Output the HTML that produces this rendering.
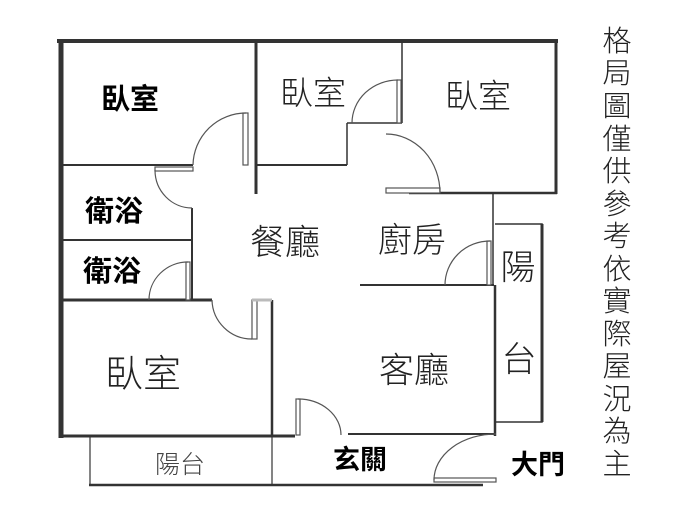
<!DOCTYPE html>
<html><head><meta charset="utf-8"><style>
html,body{margin:0;padding:0;background:#fff;width:691px;height:511px;overflow:hidden}
svg{display:block}
text{font-family:"Liberation Sans","Noto Sans CJK TC",sans-serif;fill:#222;text-anchor:middle;dominant-baseline:central;font-weight:300}
.b{font-weight:bold;fill:#000}
</style></head><body>
<svg width="691" height="511" viewBox="0 0 691 511" xmlns="http://www.w3.org/2000/svg">
<g stroke="#333" fill="none" stroke-linecap="butt">
<line x1="57" y1="41" x2="558" y2="41" stroke-width="4"/>
<line x1="61" y1="39" x2="61" y2="438" stroke-width="5"/>
<line x1="556" y1="41" x2="556" y2="194" stroke-width="3"/>
<line x1="256" y1="41" x2="256" y2="194" stroke-width="3"/>
<line x1="59" y1="436" x2="295" y2="436" stroke-width="3"/>
<line x1="61" y1="165" x2="193" y2="165" stroke-width="2"/>
<line x1="61" y1="240" x2="192" y2="240" stroke-width="2"/>
<line x1="192" y1="208" x2="192" y2="300" stroke-width="2"/>
<line x1="61" y1="300" x2="212" y2="300" stroke-width="3"/>
<line x1="272" y1="300" x2="272" y2="436" stroke-width="2.5"/>
<line x1="256" y1="165" x2="347" y2="165" stroke-width="2"/>
<line x1="347" y1="123" x2="347" y2="165" stroke-width="1.5"/>
<line x1="347" y1="123" x2="402" y2="123" stroke-width="1.5"/>
<line x1="402" y1="41" x2="402" y2="123" stroke-width="1.5"/>
<line x1="409" y1="193" x2="557" y2="193" stroke-width="2.5"/>
<line x1="493" y1="193" x2="493" y2="286" stroke-width="1.5"/>
<line x1="360" y1="285" x2="494" y2="285" stroke-width="2"/>
<line x1="495" y1="285" x2="495" y2="436" stroke-width="2.5"/>
<line x1="348" y1="434" x2="496" y2="434" stroke-width="2"/>
<polyline points="495,224 542,224 542,422 495,422" stroke-width="1.5"/>
<line x1="542" y1="224" x2="542" y2="422" stroke-width="3"/>
<line x1="90" y1="436" x2="90" y2="485" stroke-width="1.2"/>
<line x1="272" y1="436" x2="272" y2="485" stroke-width="1.2"/>
<line x1="89" y1="485" x2="483" y2="485" stroke-width="2.5"/>
<g stroke-width="1.2" stroke="#555">
<rect x="243" y="113" width="5" height="52" fill="#fff"/>
<path d="M246 113 A53 53 0 0 0 193 165"/>
<rect x="155" y="167" width="38" height="4" fill="#fff"/>
<path d="M155 170 A37 38 0 0 0 192 208"/>
<rect x="186" y="262" width="4" height="38" fill="#fff"/>
<path d="M188 262 A39 38 0 0 0 149 300"/>
<rect x="252" y="300" width="5" height="39" fill="#fff"/>
<line x1="252" y1="300" x2="272" y2="300" stroke="#bbb" stroke-width="3"/>
<path d="M212 300 A40 40 0 0 0 252 339"/>
<rect x="397" y="80" width="4" height="43" fill="#fff"/>
<path d="M398 80 A46 43 0 0 0 352 123"/>
<rect x="386" y="188" width="54" height="5" fill="#fff"/>
<path d="M386 134 A54 59 0 0 1 440 193"/>
<rect x="487" y="241" width="4" height="44" fill="#fff"/>
<path d="M490 241 A45 44 0 0 0 445 285"/>
<rect x="296" y="399" width="4" height="36" fill="#fff"/>
<path d="M298 399 A43 36 0 0 1 341 435"/>
<rect x="434" y="478" width="62" height="4" fill="#fff"/>
<path d="M496 434 A62 46 0 0 0 434 480"/>
</g>
</g>
<text x="130" y="100" class="b" font-size="29">臥室</text>
<text x="114" y="212" class="b" font-size="29">衛浴</text>
<text x="112" y="272" class="b" font-size="29">衛浴</text>
<text x="313" y="93" font-size="33">臥室</text>
<text x="478" y="96" font-size="33">臥室</text>
<text x="285" y="243" font-size="35">餐廳</text>
<text x="412" y="241" font-size="34">廚房</text>
<text x="518" y="268" font-size="35">陽</text>
<text x="519" y="360" font-size="35">台</text>
<text x="143" y="375" font-size="38">臥室</text>
<text x="414" y="371" font-size="35">客廳</text>
<text x="180" y="465" font-size="25" style="fill:#444">陽台</text>
<text x="360" y="460" class="b" font-size="27">玄關</text>
<text x="538" y="465" class="b" font-size="27">大門</text>
<g font-size="29">
<text x="617" y="42">格</text><text x="617" y="74">局</text><text x="617" y="107">圖</text><text x="617" y="140">僅</text><text x="617" y="172">供</text><text x="617" y="205">參</text><text x="617" y="237">考</text><text x="617" y="270">依</text><text x="617" y="302">實</text><text x="617" y="335">際</text><text x="617" y="367">屋</text><text x="617" y="400">況</text><text x="617" y="432">為</text><text x="617" y="465">主</text>
</g>
</svg>
</body></html>
